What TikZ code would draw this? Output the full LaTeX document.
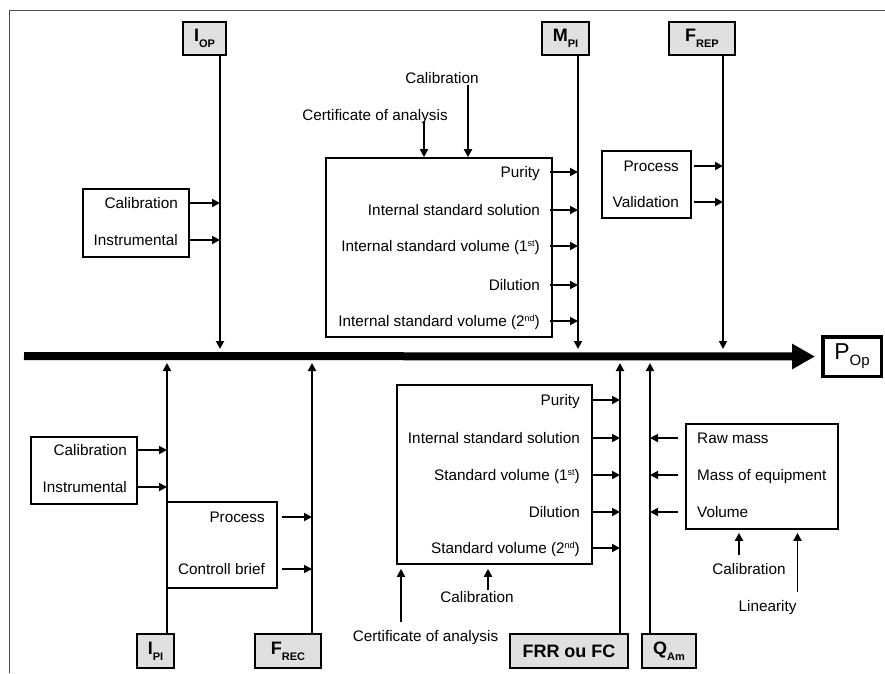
\documentclass[tikz,border=0pt]{standalone}
\usepackage{fontspec}
\setmainfont{Liberation Sans}
\usepackage{tikz}
\usetikzlibrary{arrows.meta}

\definecolor{lblgray}{RGB}{224,224,224}
\newcommand{\lbl}[2]{\textbf{#1}\raisebox{-6pt}{\fontsize{11}{11}\selectfont\textbf{#2}}}
\newcommand{\sups}[1]{\raisebox{5pt}{\fontsize{9}{9}\selectfont #1}}

\begin{document}
\begin{tikzpicture}[x=1pt,y=-1pt,>={Triangle[length=8pt,width=8pt]},
    tag/.style={draw, line width=1.6pt, fill=lblgray, inner sep=0pt, font=\fontsize{18}{18}\selectfont},
    frame/.style={draw, line width=1.6pt, inner sep=0pt},
    txt/.style={inner sep=0pt, text height=11pt, text depth=0pt, font=\fontsize{15.3}{18}\selectfont},
    feed/.style={->, line width=1.8pt}]
    \useasboundingbox (0,0) rectangle (885,673);
    \draw[line width=0.8pt, gray!60!black] (885,10) -- (9,10) -- (9,673);

    % labels at the ends of the lines
    \node[tag, minimum width=43pt, minimum height=33pt] (iop) at (204.5,38.5) {\lbl{I}{OP}};
    \node[tag, minimum width=47pt, minimum height=33pt] (mpi) at (565.5,38.5) {\lbl{M}{PI}};
    \node[tag, minimum width=66pt, minimum height=33pt] (frep) at (702,38.5) {\lbl{F}{REP}};
    \node[tag, minimum width=37pt, minimum height=34pt] (ipi) at (155.5,651) {\lbl{I}{PI}};
    \node[tag, minimum width=66pt, minimum height=34pt] (frec) at (288,651) {\lbl{F}{REC}};
    \node[tag, minimum width=118pt, minimum height=34pt] (frr) at (569,651) {\textbf{FRR ou FC}};
    \node[tag, minimum width=54pt, minimum height=34pt] (qam) at (669,651) {\lbl{Q}{Am}};
    \node[draw, line width=3.5pt, inner sep=0pt, minimum width=58.5pt, minimum height=39.5pt,
        font=\fontsize{23}{23}\selectfont] (pop) at (852,356.5) {P\raisebox{-6pt}{\fontsize{15}{15}\selectfont Op}};

    % main line
    \coordinate (s) at (24,356);
    \draw[line width=8pt, -{Triangle[length=23pt,width=24pt]}] (s) -- ([xshift=-6pt]pop.west);

    \coordinate (tIop) at (220,349);
    \coordinate (tMpi) at (578,349);
    \coordinate (tFrep) at (723,349);
    \coordinate (bIpi) at (167,363);
    \coordinate (bFrec) at (312,363);
    \coordinate (bFrr) at (620,363);
    \coordinate (bQam) at (650,363);
    \foreach \k/\l in {iop/tIop, mpi/tMpi, frep/tFrep}{\draw[feed](\l |- \k.south)--(\l);}
    \foreach \k/\l in {ipi/bIpi, frec/bFrec, frr/bFrr, qam/bQam}{\draw[feed](\l |- \k.north)--(\l);}

    % boxes
    \node[frame, minimum width=106pt, minimum height=68pt] (tl) at (136,223) {};
    \node[frame, minimum width=226pt, minimum height=179pt] (mbox) at (439,247.5) {};
    \node[frame, minimum width=89pt, minimum height=67pt] (pv) at (646.5,184.5) {};
    \node[frame, minimum width=106pt, minimum height=67pt] (bl) at (84,470.5) {};
    \node[frame, minimum width=110pt, minimum height=86pt] (pc) at (222,545) {};
    \node[frame, minimum width=195pt, minimum height=179pt] (cbox) at (494.5,474.5) {};
    \node[frame, minimum width=152pt, minimum height=105pt] (rbox) at (762,476.5) {};

    \foreach \n/\y/\t in {tl1/203/Calibration, tl2/240/Instrumental}{
        \node[txt, anchor=east] (\n) at (178,\y) {\t};
        \draw[feed](tl.east |- \n)--(tIop |- \n);
    }
    \foreach \n/\y/\t in {m1/172/Purity, m2/210/Internal standard solution,
        m3/246/{Internal standard volume (1\sups{st})}, m4/285/Dilution,
        m5/321/{Internal standard volume (2\sups{nd})}}{
        \node[txt, anchor=east] (\n) at (540,\y) {\t};
        \draw[feed]([xshift=-3pt]mbox.east |- \n)--(tMpi |- \n);
    }
    \foreach \n/\y/\t in {pv1/166/Process, pv2/202/Validation}{
        \node[txt, anchor=east] (\n) at (679,\y) {\t};
        \draw[feed]([xshift=2pt]pv.east |- \n)--(tFrep |- \n);
    }
    \foreach \n/\y/\t in {bl1/450/Calibration, bl2/487/Instrumental}{
        \node[txt, anchor=east] (\n) at (127,\y) {\t};
        \draw[feed](bl.east |- \n)--(bIpi |- \n);
    }
    \foreach \n/\y/\t in {pc1/517/Process, pc2/569/Controll brief}{
        \node[txt, anchor=east] (\n) at (265,\y) {\t};
        \draw[feed]([xshift=4pt]pc.east |- \n)--(bFrec |- \n);
    }
    \foreach \n/\y/\t in {c1/400/Purity, c2/438/Internal standard solution,
        c3/475/{Standard volume (1\sups{st})}, c4/512/Dilution,
        c5/548/{Standard volume (2\sups{nd})}}{
        \node[txt, anchor=east] (\n) at (580,\y) {\t};
        \draw[feed](cbox.east |- \n)--(bFrr |- \n);
    }
    \foreach \n/\y/\t in {r1/438/Raw mass, r2/475/Mass of equipment, r3/512/Volume}{
        \node[txt, anchor=west] (\n) at (697,\y) {\t};
        \draw[feed]([xshift=-7pt]rbox.west |- \n)--(bQam |- \n);
    }

    % inputs above and below the boxes
    \node[txt] (tcal) at (442,78) {Calibration};
    \node[txt] (tcert) at (375,115) {Certificate of analysis};
    \draw[feed]([xshift=26pt,yshift=-1pt]tcal.south)--([xshift=26pt]tcal.south |- mbox.north);
    \draw[feed]([xshift=49pt]tcert.south)--([xshift=49pt]tcert.south |- mbox.north);

    \node[txt] (bcal) at (477,597) {Calibration};
    \node[txt] (bcert) at (425.5,636) {Certificate of analysis};
    \draw[feed, shorten >=4pt]([xshift=11pt,yshift=1pt]bcal.north)--([xshift=11pt]bcal.north |- cbox.south);
    \draw[feed, shorten >=4pt]([xshift=-24.5pt,yshift=8pt]bcert.north)--([xshift=-24.5pt]bcert.north |- cbox.south);

    \node[txt] (rcal) at (749,569) {Calibration};
    \node[txt] (rlin) at (767.5,606) {Linearity};
    \draw[feed, shorten >=3pt]([xshift=-10pt,yshift=8pt]rcal.north)--([xshift=-10pt]rcal.north |- rbox.south);
    \draw[feed, shorten >=3pt]([xshift=30pt,yshift=8pt]rlin.north)--([xshift=30pt]rlin.north |- rbox.south);
\end{tikzpicture}
\end{document}
